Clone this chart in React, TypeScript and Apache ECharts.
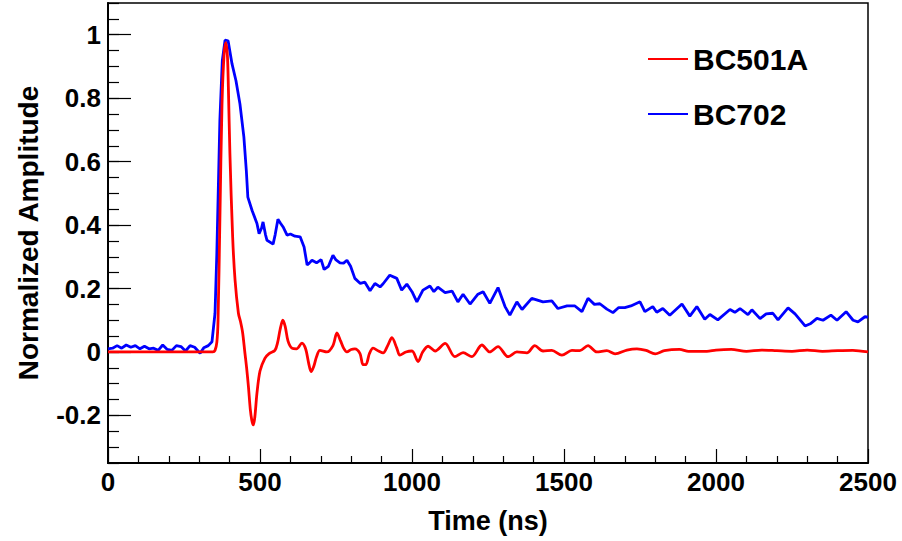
import React, { useEffect, useRef } from "react";
import * as echarts from "echarts";

// ---- Data ----
const redT = [0, 100, 200, 300, 345, 352, 358, 362, 368, 375, 382, 388, 393, 396, 401, 410, 418, 429, 436, 443, 450, 456, 462, 468, 473, 478, 483, 490, 500, 516, 530, 549, 558, 566, 575, 583, 592, 605, 620, 638, 650, 660, 668, 677, 686, 697, 720, 740, 753, 765, 775, 786, 800, 812, 829, 839, 848, 860, 872, 890, 905, 920, 934, 950, 960, 980, 1000, 1020, 1035, 1053, 1076, 1109, 1141, 1168, 1197, 1230, 1256, 1283, 1316, 1345, 1378, 1404, 1431, 1460, 1493, 1526, 1552, 1579, 1608, 1641, 1668, 1707, 1740, 1770, 1800, 1830, 1880, 1910, 1970, 2000, 2050, 2100, 2150, 2200, 2250, 2300, 2350, 2400, 2450, 2500];
const redV = [0, 0, 0, 0, 0, 0.005, 0.03, 0.1, 0.415, 0.78, 0.94, 0.975, 0.93, 0.834, 0.626, 0.363, 0.226, 0.122, 0.095, 0.06, 0.0, -0.05, -0.11, -0.18, -0.215, -0.23, -0.205, -0.13, -0.06, -0.02, -0.005, 0.005, 0.03, 0.07, 0.1, 0.08, 0.035, 0.012, 0.01, 0.028, 0.01, -0.035, -0.062, -0.045, -0.015, 0.005, 0.0, 0.02, 0.06, 0.035, 0.012, 0.0, 0.008, 0.01, -0.005, -0.04, -0.04, -0.005, 0.012, 0.003, -0.003, 0.02, 0.045, 0.012, -0.01, 0.0, 0.003, -0.03, 0.0, 0.018, 0.003, 0.027, -0.015, -0.002, -0.015, 0.022, 0.0, 0.017, -0.015, 0.0, -0.003, 0.02, 0.003, 0.005, -0.01, 0.005, 0.004, 0.02, 0.0, 0.004, -0.006, 0.006, 0.01, 0.005, -0.006, 0.004, 0.008, 0.002, 0.002, 0.006, 0.008, 0.002, 0.006, 0.004, 0.002, 0.006, 0.002, 0.004, 0.005, 0.0];

const blueT = [0, 15, 30, 45, 60, 75, 90, 105, 120, 135, 150, 165, 180, 195, 210, 225, 240, 255, 270, 285, 303, 315, 330, 342, 352, 358, 368, 376, 385, 395, 408, 421, 434, 447, 455, 460, 474, 490, 497, 505, 510, 518, 523, 543, 550, 559, 568, 576, 589, 600, 615, 632, 645, 655, 662, 671, 686, 701, 711, 725, 740, 750, 763, 775, 786, 798, 812, 830, 845, 862, 878, 895, 905, 927, 950, 966, 983, 1000, 1016, 1036, 1059, 1072, 1085, 1109, 1132, 1151, 1168, 1191, 1217, 1234, 1256, 1283, 1306, 1322, 1345, 1362, 1394, 1431, 1460, 1480, 1510, 1536, 1559, 1579, 1600, 1618, 1641, 1661, 1680, 1700, 1720, 1750, 1766, 1792, 1805, 1825, 1848, 1888, 1914, 1937, 1963, 1980, 2006, 2046, 2062, 2079, 2105, 2118, 2145, 2165, 2187, 2204, 2237, 2260, 2293, 2312, 2332, 2352, 2378, 2398, 2428, 2451, 2467, 2490, 2500];
const blueV = [0.01, 0.012, 0.02, 0.012, 0.022, 0.015, 0.02, 0.01, 0.018, 0.01, 0.012, 0.005, 0.022, 0.008, 0.005, 0.02, 0.017, 0.003, 0.02, 0.015, -0.004, 0.013, 0.02, 0.032, 0.122, 0.31, 0.73, 0.918, 0.983, 0.981, 0.908, 0.855, 0.782, 0.677, 0.572, 0.488, 0.446, 0.405, 0.373, 0.39, 0.41, 0.37, 0.352, 0.34, 0.37, 0.418, 0.405, 0.394, 0.368, 0.372, 0.365, 0.363, 0.331, 0.274, 0.28, 0.289, 0.281, 0.291, 0.26, 0.27, 0.305, 0.29, 0.281, 0.28, 0.289, 0.27, 0.232, 0.216, 0.22, 0.193, 0.216, 0.205, 0.215, 0.242, 0.232, 0.195, 0.214, 0.19, 0.158, 0.195, 0.208, 0.19, 0.204, 0.187, 0.192, 0.158, 0.182, 0.151, 0.182, 0.19, 0.153, 0.203, 0.143, 0.116, 0.158, 0.134, 0.169, 0.158, 0.161, 0.137, 0.145, 0.145, 0.127, 0.169, 0.15, 0.152, 0.135, 0.124, 0.14, 0.14, 0.145, 0.158, 0.127, 0.143, 0.125, 0.137, 0.116, 0.151, 0.113, 0.143, 0.103, 0.118, 0.101, 0.134, 0.125, 0.137, 0.118, 0.133, 0.105, 0.12, 0.122, 0.101, 0.139, 0.12, 0.082, 0.09, 0.106, 0.1, 0.116, 0.1, 0.127, 0.1, 0.095, 0.111, 0.11];

const yLabelValues = [-0.2, 0, 0.2, 0.4, 0.6, 0.8, 1];
const yMinorValues = [-0.35, -0.3, -0.25, -0.2, -0.15, -0.1, -0.05, 0, 0.05, 0.1, 0.15, 0.2, 0.25, 0.3, 0.35, 0.4, 0.45, 0.5, 0.55, 0.6, 0.65, 0.7, 0.75, 0.8, 0.85, 0.9, 0.95, 1, 1.05, 1.1];
const seriesNames = ["BC501A", "BC702"];

const FONT = "'Liberation Sans', Arial, Helvetica, sans-serif";

export default function App() {
  const ref = useRef<HTMLDivElement>(null);
  useEffect(() => {
    if (!ref.current) return;
    const chart = echarts.init(ref.current, null, { renderer: "svg" });
    const red = redT.map((t, i) => [t, redV[i]]);
    const blue = blueT.map((t, i) => [t, blueV[i]]);
    chart.setOption({
      animation: false,
      backgroundColor: "#ffffff",
      textStyle: { fontFamily: FONT },
      grid: {
        left: 108,
        right: 34,
        top: 3,
        bottom: 78,
        show: true,
        borderColor: "#000",
        borderWidth: 1.5,
        backgroundColor: "transparent",
      },
      legend: {
        data: seriesNames,
        orient: "vertical",
        left: 643,
        top: 39,
        itemWidth: 40,
        itemHeight: 14,
        itemGap: 25,
        icon: "path://M0,6 L40,6 L40,8 L0,8 Z",
        textStyle: {
          fontFamily: FONT,
          fontWeight: "bold",
          fontSize: 30,
          color: "#000",
          lineHeight: 30,
          padding: [0, 0, 0, 0],
        },
      },
      xAxis: {
        type: "value",
        min: 0,
        max: 2500,
        interval: 500,
        name: "Time (ns)",
        nameLocation: "middle",
        nameGap: 44,
        nameTextStyle: { fontFamily: FONT, fontWeight: "bold", fontSize: 27, color: "#000" },
        axisLine: { show: true, onZero: false, lineStyle: { color: "#000", width: 2 } },
        axisTick: { show: true, inside: true, length: 14, lineStyle: { color: "#000", width: 1.2 } },
        minorTick: { show: true, splitNumber: 5, length: 7, lineStyle: { color: "#000", width: 1.2 } },
        axisLabel: {
          fontFamily: FONT,
          fontWeight: "bold",
          fontSize: 26,
          color: "#000",
          margin: 6,
          showMaxLabel: true,
          showMinLabel: true,
          formatter: (v: number) => String(v),
        },
        splitLine: { show: false },
      },
      yAxis: [
        {
          type: "value",
          min: -0.35,
          max: 1.1,
          name: "Normalized Amplitude",
          nameLocation: "middle",
          nameGap: 66,
          nameTextStyle: { fontFamily: FONT, fontWeight: "bold", fontSize: 28, color: "#000" },
          axisLine: { show: true, onZero: false, lineStyle: { color: "#000", width: 2 } },
          axisTick: { show: true, inside: true, length: 23, customValues: yLabelValues, lineStyle: { color: "#000", width: 1.2 } },
          axisLabel: {
            customValues: yLabelValues,
            fontFamily: FONT,
            fontWeight: "bold",
            fontSize: 26,
            color: "#000",
            margin: 7,
            formatter: (v: number) => String(Math.round(v * 10) / 10),
          },
          splitLine: { show: false },
        },
        {
          type: "value",
          min: -0.35,
          max: 1.1,
          position: "left",
          axisLine: { show: false },
          axisTick: { show: true, inside: true, length: 11, customValues: yMinorValues, lineStyle: { color: "#000", width: 1.2 } },
          axisLabel: { show: false },
          splitLine: { show: false },
        },
      ],
      series: [
        {
          name: "BC702",
          type: "line",
          data: blue,
          symbol: "none",
          showSymbol: false,
          yAxisIndex: 0,
          lineStyle: { color: "#0000ff", width: 2.8 },
          itemStyle: { color: "#0000ff" },
          z: 2,
        },
        {
          name: "BC501A",
          type: "line",
          data: red,
          symbol: "none",
          showSymbol: false,
          smooth: 0.3,
          yAxisIndex: 0,
          lineStyle: { color: "#ff0000", width: 2.8 },
          itemStyle: { color: "#ff0000" },
          z: 3,
        },
      ],
    });
    return () => chart.dispose();
  }, []);
  return (
    <div
      ref={ref}
      style={{ position: "fixed", left: 0, top: 0, width: 902, height: 541, background: "#fff" }}
    />
  );
}
